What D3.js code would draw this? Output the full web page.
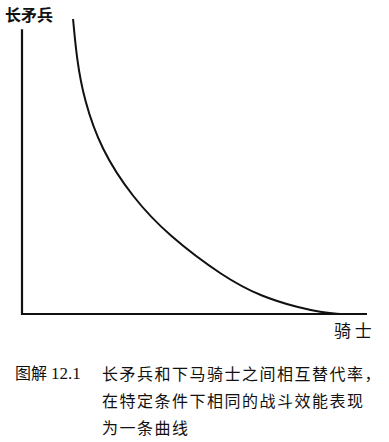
<!DOCTYPE html>
<html>
<head>
<meta charset="utf-8">
<script src="https://cdn.jsdelivr.net/npm/d3@7"></script>
<style>
  body { margin: 0; background: #fff; }
  svg { display: block; }
  .cjk { font-family: "Noto Sans CJK SC", sans-serif; fill: #111; }
</style>
</head>
<body>
<svg id="fig" width="389" height="442"></svg>
<script>
// curve points (arbitrary units, 0-100 each axis)
const knights = [14.8, 15.9, 18.0, 22.8, 32.0, 42.5, 58.5, 69.3, 80.6, 86.4, 92.2];
const pikemen = [100, 86.1, 72.6, 56.0, 39.5, 26.5, 12.5, 5.9, 2.0, 0.7, 0];
const yLabel = "长矛兵";
const xLabel = "骑 士";
const captionTag = ["图解", "12.1"];
const captionLines = ["长矛兵和下马骑士之间相互替代率，", "在特定条件下相同的战斗效能表现", "为一条曲线"];

const Fig = d3.select("#fig");

const xScale = d3.scaleLinear().domain([0, 100]).range([22, 367]);
const yScale = d3.scaleLinear().domain([0, 100]).range([314, 19]);

// axes as plain lines
Fig.append("line")
    .attr("x1", xScale(0)).attr("x2", xScale(0))
    .attr("y1", yScale(0) + 1).attr("y2", yScale(96.5))
    .attr("stroke", "#111").attr("stroke-width", 2.2);

Fig.append("line")
    .attr("x1", xScale(0) - 1).attr("x2", xScale(100))
    .attr("y1", yScale(0)).attr("y2", yScale(0))
    .attr("stroke", "#111").attr("stroke-width", 2.2);

const line = d3.line()
    .x((d, i) => xScale(knights[i]))
    .y(d => yScale(d))
    .curve(d3.curveBasis);

Fig.append("path")
    .datum(pikemen)
    .attr("d", line)
    .attr("fill", "none")
    .attr("stroke", "#111")
    .attr("stroke-width", 2);

Fig.append("text")
    .attr("class", "cjk")
    .attr("x", 5).attr("y", 21)
    .attr("font-size", 16)
    .attr("font-weight", "bold")
    .text(yLabel);

Fig.append("text")
    .attr("class", "cjk")
    .attr("x", 334).attr("y", 337)
    .attr("font-size", 17)
    .style("white-space", "pre")
    .attr("xml:space", "preserve")
    .text(xLabel);

const tag = Fig.append("text")
    .attr("x", 15).attr("y", 379)
    .attr("font-size", 16)
    .attr("fill", "#111");
tag.append("tspan").attr("font-family", "'Noto Sans CJK SC', sans-serif").text(captionTag[0]);
tag.append("tspan").attr("dx", 4).attr("font-family", "'Liberation Serif', serif").attr("font-size", 17).text(captionTag[1]);

Fig.selectAll(".caption")
    .data(captionLines)
    .join("text")
    .attr("class", "cjk caption")
    .attr("x", 102)
    .attr("y", (d, i) => 380 + i * 27)
    .attr("font-size", 16)
    .attr("letter-spacing", 1.5)
    .text(d => d);
</script>
</body>
</html>
